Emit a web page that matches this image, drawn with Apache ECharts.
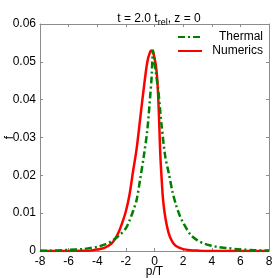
<!DOCTYPE html>
<html><head><meta charset="utf-8">
<script src="https://cdn.jsdelivr.net/npm/echarts@6/dist/echarts.min.js"></script>
<style>html,body{margin:0;padding:0;background:#fff}#c{width:278px;height:278px}</style>
</head><body><div id="c"></div>
<script>
var thermalP = [-8,-7,-6,-5,-4.5,-4,-3.5,-3,-2.5,-2,-1.75,-1.5,-1.25,-1,-0.75,-0.5,-0.3,-0.2,-0.1,0,0.1,0.25,0.4,0.5,0.75,1,1.25,1.5,1.75,2,2.5,3,3.5,4,4.5,5,6,7,8];
var thermalF = [0.00005,0.0001,0.0003,0.0005,0.0008,0.0011,0.0017,0.0026,0.0040,0.0060,0.0080,0.0105,0.0135,0.019,0.025,0.032,0.041,0.046,0.053,0.050,0.047,0.043,0.037,0.033,0.025,0.0205,0.0158,0.0122,0.0095,0.0075,0.0044,0.0028,0.0019,0.0014,0.0010,0.0008,0.0004,0.0002,0.0001];
var numericsP = [-8,-6,-5,-4.5,-4,-3.5,-3,-2.75,-2.5,-2.25,-2,-1.75,-1.5,-1.25,-1,-0.75,-0.5,-0.3,-0.2,-0.1,0,0.1,0.2,0.3,0.4,0.5,0.6,0.75,1,1.25,1.5,2,2.5,3,4,6,8];
var numericsF = [0,0,0.00005,0.0001,0.0004,0.0008,0.0020,0.0032,0.0050,0.0075,0.0105,0.0148,0.021,0.027,0.035,0.043,0.050,0.0527,0.053,0.0525,0.051,0.049,0.045,0.037,0.026,0.019,0.0135,0.009,0.0046,0.0024,0.0013,0.0005,0.0002,0.0001,0,0,0];
var xTicks = [-8,-6,-4,-2,0,2,4,6,8];
var yTicks = [0,0.01,0.02,0.03,0.04,0.05,0.06];

function pairs(p,f){return p.map(function(v,i){return [v,f[i]];});}
var font = 'Liberation Sans, Arial, sans-serif';
var fs = 12;
var chart = echarts.init(document.getElementById('c'));
var axCol = '#8c8c8c';
chart.setOption({
  animation:false,
  title:{
    text:'t = 2.0 t{s|rel}, z = 0', left:154, textAlign:'center', top:6,
    textStyle:{fontFamily:font,fontSize:fs,fontWeight:'normal',color:'#000',
      rich:{s:{fontSize:9,verticalAlign:'bottom',padding:[7,0,0,0],fontFamily:font,color:'#000'}}}
  },
  legend:{
    right:10, top:26, orient:'vertical', itemWidth:24, itemHeight:10, itemGap:2,
    itemStyle:{opacity:0},
    formatter:'{a|{name}}',
    textStyle:{fontFamily:font,fontSize:fs,color:'#000',rich:{a:{width:56,align:'right',fontFamily:font,fontSize:fs}}},
    data:['Thermal','Numerics']
  },
  grid:{left:40,right:9,top:24,bottom:27,containLabel:false,outerBoundsMode:'none'},
  xAxis:[{
    type:'value', min:-8, max:8, interval:2,
    name:'p/T', nameLocation:'middle', nameGap:15, nameMoveOverlap:false,
    nameTextStyle:{fontFamily:font,fontSize:fs,color:'#000'},
    axisLine:{onZero:false,lineStyle:{color:axCol}},
    axisTick:{inside:true,length:3,lineStyle:{color:axCol}},
    axisLabel:{fontFamily:font,fontSize:fs,color:'#000',margin:5},
    splitLine:{show:false}
  },{
    type:'value', min:-8, max:8, interval:2, position:'top',
    axisLine:{show:true,onZero:false,lineStyle:{color:axCol}},
    axisTick:{show:true,inside:true,length:3,lineStyle:{color:axCol}},
    axisLabel:{show:false}, splitLine:{show:false}
  }],
  yAxis:[{
    type:'value', min:0, max:0.06, interval:0.01,
    name:'f', nameLocation:'middle', nameGap:24, nameRotate:90, nameMoveOverlap:false,
    nameTextStyle:{fontFamily:font,fontSize:fs,color:'#000'},
    axisLine:{show:true,onZero:false,lineStyle:{color:axCol}},
    axisTick:{show:true,inside:true,length:3,lineStyle:{color:axCol}},
    axisLabel:{fontFamily:font,fontSize:fs,color:'#000',margin:4},
    splitLine:{show:false}
  },{
    type:'value', min:0, max:0.06, interval:0.01, position:'right',
    axisLine:{show:true,onZero:false,lineStyle:{color:axCol}},
    axisTick:{show:true,inside:true,length:3,lineStyle:{color:axCol}},
    axisLabel:{show:false}, splitLine:{show:false}
  }],
  series:[{
    name:'Thermal', type:'line', data:pairs(thermalP,thermalF), symbol:'none', smooth:0.3,
    lineStyle:{color:'#008000',width:2.5,type:[7,3,2,3]}, itemStyle:{color:'#008000'}, z:3
  },{
    name:'Numerics', type:'line', data:pairs(numericsP,numericsF), symbol:'none', smooth:0.3,
    lineStyle:{color:'#ff0000',width:2.5}, itemStyle:{color:'#ff0000'}, z:2
  }]
});
</script></body></html>
